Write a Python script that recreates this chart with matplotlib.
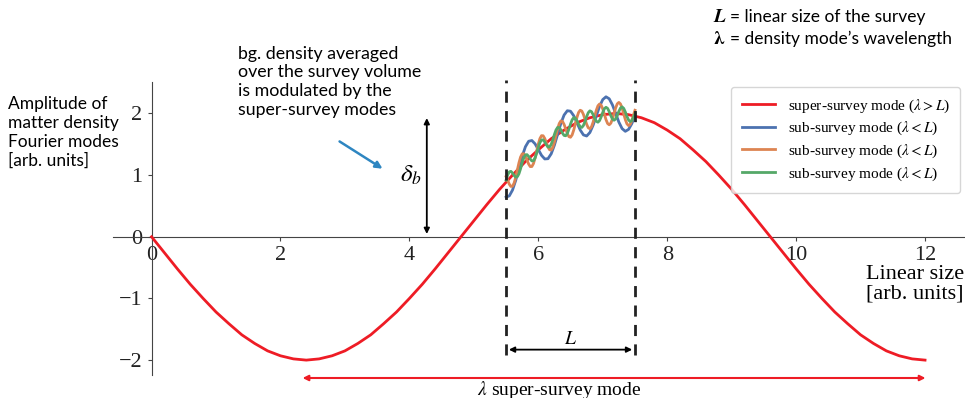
import numpy as np
import matplotlib
matplotlib.use("Agg")
import matplotlib.pyplot as plt

plt.rcParams['font.family'] = ['Liberation Serif', 'DejaVu Serif']
plt.rcParams['mathtext.fontset'] = 'stix'

# super-survey mode, read every 0.2 units from 0 to 12
red_x = np.linspace(0, 12, 61)
red_y = [0, -0.26, -0.52, -0.77, -1.0, -1.22, -1.41, -1.59, -1.73, -1.85, -1.93, -1.98, -2.0,
         -1.98, -1.93, -1.85, -1.73, -1.59, -1.41, -1.22, -1.0, -0.77, -0.52, -0.26, 0,
         0.26, 0.52, 0.77, 1.0, 1.22, 1.41, 1.59, 1.73, 1.85, 1.93, 1.98, 2.0,
         1.98, 1.93, 1.85, 1.73, 1.59, 1.41, 1.22, 1.0, 0.77, 0.52, 0.26, 0,
         -0.26, -0.52, -0.77, -1.0, -1.22, -1.41, -1.59, -1.73, -1.85, -1.93, -1.98, -2.0]

# sub-survey mode 1 (long wiggle), every 0.05 units from 5.5 to 7.5
sub_x = np.linspace(5.5, 7.5, 41)
blue_y = [0.643, 0.663, 0.758, 0.916, 1.111, 1.305, 1.460, 1.549, 1.561, 1.507, 1.414,
          1.320, 1.262, 1.266, 1.345, 1.486, 1.663, 1.839, 1.974, 2.044, 2.036,
          1.962, 1.848, 1.732, 1.652, 1.634, 1.690, 1.808, 1.962, 2.113, 2.225,
          2.270, 2.238, 2.139, 2.000, 1.859, 1.754, 1.710, 1.741, 1.833, 1.962]

# sub-survey modes 2 and 3 (short wiggles), every 0.025 units from 5.5 to 7.5
fine_x = np.linspace(5.5, 7.5, 81)
orange_y = [0.975, 0.914, 0.853, 0.816, 0.820, 0.872, 0.966, 1.084, 1.201, 1.294,
            1.345, 1.347, 1.308, 1.243, 1.179, 1.138, 1.139, 1.187, 1.277, 1.391,
            1.504, 1.593, 1.640, 1.638, 1.594, 1.525, 1.456, 1.411, 1.407, 1.451,
            1.536, 1.644, 1.753, 1.837, 1.879, 1.871, 1.822, 1.748, 1.674, 1.623,
            1.614, 1.652, 1.732, 1.835, 1.938, 2.016, 2.052, 2.039, 1.984, 1.904,
            1.824, 1.767, 1.752, 1.784, 1.858, 1.955, 2.052, 2.124, 2.153, 2.134,
            2.073, 1.987, 1.900, 1.837, 1.816, 1.842, 1.909, 2.000, 2.090, 2.156,
            2.179, 2.154, 2.086, 1.993, 1.900, 1.831, 1.803, 1.822, 1.883, 1.968,
            2.052]
green_y = [0.919, 1.003, 1.053, 1.061, 1.034, 0.994, 0.967, 0.974, 1.022, 1.104,
           1.199, 1.280, 1.328, 1.332, 1.303, 1.260, 1.230, 1.233, 1.278, 1.357,
           1.448, 1.526, 1.570, 1.571, 1.538, 1.491, 1.457, 1.457, 1.498, 1.573,
           1.660, 1.733, 1.773, 1.770, 1.733, 1.681, 1.643, 1.638, 1.675, 1.745,
           1.828, 1.897, 1.932, 1.924, 1.882, 1.826, 1.783, 1.773, 1.805, 1.870,
           1.948, 2.012, 2.042, 2.029, 1.982, 1.921, 1.873, 1.858, 1.884, 1.944,
           2.017, 2.076, 2.100, 2.082, 2.030, 1.964, 1.910, 1.890, 1.911, 1.966,
           2.033, 2.087, 2.106, 2.082, 2.024, 1.953, 1.894, 1.868, 1.884, 1.934,
           1.996]

survey = [5.5, 7.5]
x_ticks = [0, 2, 4, 6, 8, 10, 12]
y_ticks = [-2, -1, 0, 1, 2]

fig = plt.figure(figsize=(9.65, 3.98), dpi=100)
ax = fig.add_axes([0.117, 0.058, 0.883, 0.736])

ax.plot(red_x, red_y, color='#ee1c25', lw=2, label=r'super-survey mode ($\lambda > L$)', zorder=3)
ax.plot(sub_x, blue_y, color='#4c72b0', lw=2, label=r'sub-survey mode ($\lambda < L$)', zorder=4)
ax.plot(fine_x, orange_y, color='#dd8452', lw=2, label=r'sub-survey mode ($\lambda < L$)', zorder=4)
ax.plot(fine_x, green_y, color='#55a868', lw=2, label=r'sub-survey mode ($\lambda < L$)', zorder=4)

# survey borders
for xs in survey:
    ax.plot([xs, xs], [-1.91, 2.54], color='#222222', ls=(0, (4, 3)), lw=2, zorder=5, clip_on=False)

ax.set_xlim(-0.6, 12.62)
ax.set_ylim(-2.24, 2.51)
ax.spines['left'].set_position(('data', 0))
ax.spines['bottom'].set_position(('data', 0))
ax.spines['top'].set_visible(False)
ax.spines['right'].set_visible(False)
for s in ['left', 'bottom']:
    ax.spines[s].set_color('#444444')
ax.set_xticks(x_ticks)
ax.set_yticks(y_ticks)
ax.set_xticklabels([str(t) for t in x_ticks])
ax.set_yticklabels([str(t) if t >= 0 else '\u2212' + str(-t) for t in y_ticks])
ax.tick_params(labelsize=16, colors='#222222', length=3, color='#444444')

ax.legend(loc='upper right', fontsize=11, frameon=True, handlelength=2.2,
          borderaxespad=0.3, labelspacing=0.35, borderpad=0.7)

# axis labels as free text
ax.text(12.6, -0.45, 'Linear size\n[arb. units]', ha='right', va='top', fontsize=16,
        linespacing=1.05)
fig.text(0.008, 0.758, 'Amplitude of\nmatter density\nFourier modes\n[arb. units]',
         family='Lato', fontsize=12.5, va='top', linespacing=1.2)

# delta_b arrow
ax.annotate('', xy=(4.27, 1.97), xytext=(4.27, 0.0),
            arrowprops=dict(arrowstyle='<|-|>', color='black', lw=1.3, mutation_scale=8))
ax.text(4.02, 1.0, r'$\delta_b$', fontsize=18, ha='center', va='center')
fig.text(0.247, 0.885, 'bg. density averaged\nover the survey volume\nis modulated by the\nsuper-survey modes',
         family='Lato', fontsize=12.8, va='top', linespacing=1.2)
ax.annotate('', xy=(3.62, 1.08), xytext=(2.88, 1.57),
            arrowprops=dict(arrowstyle='-|>', color='#2e86c1', lw=1.8, mutation_scale=10))

# L arrow
ax.annotate('', xy=(7.5, -1.83), xytext=(5.5, -1.83),
            arrowprops=dict(arrowstyle='<|-|>', color='black', lw=1.3, mutation_scale=8))
ax.text(6.5, -1.66, r'$L$', fontsize=14, ha='center', va='center')

# lambda arrow
ax.annotate('', xy=(12.05, -2.29), xytext=(2.3, -2.29), annotation_clip=False,
            arrowprops=dict(arrowstyle='<|-|>', color='#ee1c25', lw=1.5, mutation_scale=8))
ax.text(6.33, -2.48, r'$\lambda$ super-survey mode', fontsize=14, ha='center', va='center',
        clip_on=False)

# top-right notes
fig.text(0.739, 0.957, r'$\boldsymbol{L}$', fontsize=14, va='center')
fig.text(0.756, 0.957, '= linear size of the survey', family='Lato', fontsize=12.5, va='center')
fig.text(0.739, 0.902, r'$\boldsymbol{\lambda}$', fontsize=14, va='center')
fig.text(0.756, 0.902, '= density mode\u2019s wavelength', family='Lato', fontsize=12.5, va='center')

fig.savefig('out.png', dpi=100)
